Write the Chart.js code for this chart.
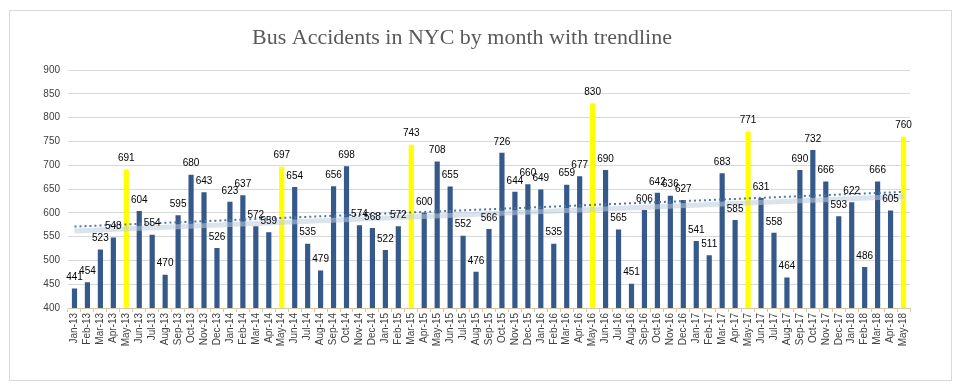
<!DOCTYPE html>
<html>
<head>
<meta charset="utf-8">
<script src="https://cdn.jsdelivr.net/npm/chart.js@4/dist/chart.umd.min.js"></script>
<style>
  body { margin: 0; background: #fff; }
  #box {
    position: absolute; left: 9px; top: 10px;
    width: 941px; height: 369px;
    border: 1px solid #d9d9d9;
  }
</style>
</head>
<body>
<div id="box"><canvas id="grafico" width="941" height="369"></canvas></div>
<script>
// meses e valores
const months = [
  "Jan-13","Feb-13","Mar-13","Apr-13","May-13","Jun-13","Jul-13","Aug-13","Sep-13","Oct-13","Nov-13","Dec-13",
  "Jan-14","Feb-14","Mar-14","Apr-14","May-14","Jun-14","Jul-14","Aug-14","Sep-14","Oct-14","Nov-14","Dec-14",
  "Jan-15","Feb-15","Mar-15","Apr-15","May-15","Jun-15","Jul-15","Aug-15","Sep-15","Oct-15","Nov-15","Dec-15",
  "Jan-16","Feb-16","Mar-16","Apr-16","May-16","Jun-16","Jul-16","Aug-16","Sep-16","Oct-16","Nov-16","Dec-16",
  "Jan-17","Feb-17","Mar-17","Apr-17","May-17","Jun-17","Jul-17","Aug-17","Sep-17","Oct-17","Nov-17","Dec-17",
  "Jan-18","Feb-18","Mar-18","Apr-18","May-18"
];
const accidents = [
  441,454,523,548,691,604,554,470,595,680,643,526,
  623,637,572,559,697,654,535,479,656,698,574,568,
  522,572,743,600,708,655,552,476,566,726,644,660,
  649,535,659,677,830,690,565,451,606,642,636,627,
  541,511,683,585,771,631,558,464,690,732,666,593,
  622,486,666,605,760
];
// meses destacados em amarelo
const highlighted = ["May-13","May-14","Mar-15","May-16","May-17","May-18"];
// pontas das linhas de tendencia (inicio, fim)
const trendDotted = [571, 644];
const trendBand = [562, 634];
const yTicks = { min: 400, max: 900, step: 50 };

const barColors = months.map(m => highlighted.includes(m) ? "#ffff00" : "#34598a");

function endpoints(pair) {
  return months.map((m, i) => i === 0 ? pair[0] : (i === months.length - 1 ? pair[1] : null));
}

// titulo desenhado a mao
const titlePlugin = {
  id: "titulo",
  afterDraw(chart) {
    const ctx = chart.ctx;
    ctx.save();
    ctx.font = "22px 'Liberation Serif', serif";
    ctx.fillStyle = "#595959";
    ctx.textAlign = "center";
    ctx.textBaseline = "middle";
    ctx.fillText("Bus Accidents in NYC by month with trendline", 452, 27);
    ctx.restore();
  }
};

// rotulos de valor acima das barras
const valueLabels = {
  id: "rotulos",
  afterDatasetsDraw(chart) {
    const ctx = chart.ctx;
    const meta = chart.getDatasetMeta(2);
    ctx.save();
    ctx.font = "10px 'Liberation Sans', Arial, sans-serif";
    ctx.fillStyle = "#000";
    ctx.textAlign = "center";
    ctx.textBaseline = "middle";
    meta.data.forEach((bar, i) => {
      ctx.fillText(accidents[i], bar.x, bar.y - 11);
    });
    ctx.restore();
  }
};

const ctx = document.getElementById("grafico").getContext("2d");
const chart = new Chart(ctx, {
  type: "bar",
  data: {
    labels: months,
    datasets: [
      {
        type: "line",
        label: "band",
        data: endpoints(trendBand),
        borderColor: "rgba(190,204,222,0.55)",
        borderWidth: 5,
        pointRadius: 0,
        spanGaps: true,
        order: 1
      },
      {
        type: "line",
        label: "trend",
        data: endpoints(trendDotted),
        borderColor: "#4f78a8",
        borderWidth: 2,
        borderDash: [2, 3],
        pointRadius: 0,
        spanGaps: true,
        order: 0
      },
      {
        label: "Bus accidents",
        data: accidents,
        backgroundColor: barColors,
        barPercentage: 0.4,
        categoryPercentage: 1,
        order: 2
      }
    ]
  },
  options: {
    responsive: false,
    animation: false,
    layout: { padding: { left: 0, right: 41, top: 59, bottom: 0 } },
    plugins: {
      legend: { display: false },
      tooltip: { enabled: false }
    },
    scales: {
      x: {
        offset: true,
        grid: {
          display: true,
          offset: true,
          drawOnChartArea: false,
          tickLength: 4,
          color: "#d9c7a7"
        },
        border: { color: "#d9c7a7" },
        ticks: {
          autoSkip: false,
          maxRotation: 90,
          minRotation: 90,
          padding: 1,
          color: "#404040",
          font: { family: "'Liberation Sans', Arial, sans-serif", size: 10 }
        },
        afterFit: s => { s.height = 72; }
      },
      y: {
        min: yTicks.min,
        max: yTicks.max,
        ticks: {
          stepSize: yTicks.step,
          padding: 8,
          color: "#404040",
          font: { family: "'Liberation Sans', Arial, sans-serif", size: 10 }
        },
        grid: { color: "#d9d9d9", drawTicks: false },
        border: { display: false },
        afterFit: s => { s.width = 58; }
      }
    }
  },
  plugins: [titlePlugin, valueLabels]
});
</script>
</body>
</html>
